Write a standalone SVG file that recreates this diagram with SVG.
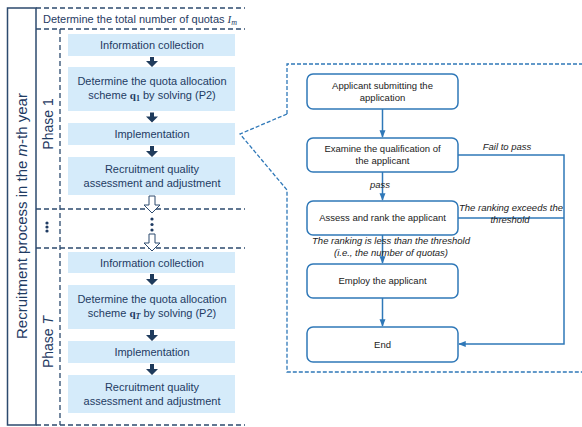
<svg xmlns="http://www.w3.org/2000/svg" width="582" height="427" viewBox="0 0 582 427">
<defs>
<style>
.lt{font-family:"Liberation Sans",Arial,sans-serif;font-size:11px;fill:#1f3b63;text-anchor:middle}
.big{font-size:15px}
.ph{font-size:14px}
.box{fill:#d5ebfa}
.dash{stroke:#2c4a6e;stroke-width:1.3;stroke-dasharray:5 3;fill:none}
.solid{stroke:#2c4a6e;stroke-width:1.5;fill:none}
.darr{fill:#1f3b5c}
.harr{fill:#fff;stroke:#2c4a6e;stroke-width:1}
.rn{fill:#fff;stroke:#2f78b8;stroke-width:1.5}
.rt{font-family:"Liberation Sans",Arial,sans-serif;font-size:9.5px;fill:#222;text-anchor:middle}
.it{font-family:"Liberation Sans",Arial,sans-serif;font-size:9.5px;fill:#222;font-style:italic;text-anchor:middle}
.con{stroke:#2f78b8;stroke-width:1.5;fill:none}
.bd{stroke:#2f78b8;stroke-width:1.3;stroke-dasharray:4 2;fill:none}
.mth{font-family:"Liberation Serif","Times New Roman",serif}
.sub{font-size:8px}
</style>
<marker id="ah" viewBox="0 0 10 10" refX="9" refY="5" markerWidth="5" markerHeight="5" orient="auto">
<path d="M0,1 L10,5 L0,9 z" fill="#2f78b8"/>
</marker>
</defs>

<!-- left frame -->
<g id="frame">
<rect x="7.5" y="8" width="28.5" height="417" class="solid"/>
<line x1="36" y1="8" x2="245" y2="8" class="dash"/>
<line x1="36" y1="29" x2="245" y2="29" class="dash"/>
<line x1="36" y1="209" x2="245" y2="209" class="dash"/>
<line x1="36" y1="248" x2="245" y2="248" class="dash"/>
<line x1="36" y1="425" x2="245" y2="425" class="dash" stroke="#9cb4cc"/>
<line x1="60" y1="29" x2="60" y2="425" class="dash"/>
<text class="lt" x="140" y="22.5">Determine the total number of quotas <tspan class="mth" font-style="italic">I</tspan><tspan class="mth sub" font-style="italic" dy="2">m</tspan></text>
<text class="lt big" transform="translate(27,216) rotate(-90)">Recruitment process in the <tspan font-style="italic">m</tspan>-th year</text>
<text class="lt ph" transform="translate(53,124) rotate(-90)">Phase 1</text>
<text class="lt ph" transform="translate(53,342) rotate(-90)">Phase <tspan font-style="italic">T</tspan></text>
<circle cx="47" cy="223" r="1.6" fill="#1f3b63"/>
<circle cx="47" cy="227" r="1.6" fill="#1f3b63"/>
<circle cx="47" cy="231" r="1.6" fill="#1f3b63"/>
</g>

<!-- Phase 1 -->
<g id="p1-info"><rect class="box" x="68" y="34" width="167" height="22"/><text class="lt" x="152" y="49">Information collection</text></g>
<g id="p1-det"><rect class="box" x="68" y="67" width="167" height="44"/><text class="lt" x="152" y="85">Determine the quota allocation</text><text class="lt" x="152" y="99">scheme <tspan class="mth" font-weight="bold">q</tspan><tspan class="mth sub" font-weight="bold" dy="2">1</tspan><tspan dy="-2"> by solving (P2)</tspan></text></g>
<g id="p1-impl"><rect class="box" x="68" y="123" width="167" height="22"/><text class="lt" x="152" y="138">Implementation</text></g>
<g id="p1-rqa"><rect class="box" x="68" y="157" width="167" height="38"/><text class="lt" x="152" y="173">Recruitment quality</text><text class="lt" x="152" y="187">assessment and adjustment</text></g>

<!-- Phase T -->
<g id="pT-info"><rect class="box" x="68" y="252" width="167" height="21"/><text class="lt" x="152" y="266.5">Information collection</text></g>
<g id="pT-det"><rect class="box" x="68" y="285" width="167" height="44"/><text class="lt" x="152" y="303">Determine the quota allocation</text><text class="lt" x="152" y="317">scheme <tspan class="mth" font-weight="bold">q</tspan><tspan class="mth sub" font-weight="bold" font-style="italic" dy="2">T</tspan><tspan dy="-2"> by solving (P2)</tspan></text></g>
<g id="pT-impl"><rect class="box" x="68" y="341" width="167" height="22"/><text class="lt" x="152" y="356">Implementation</text></g>
<g id="pT-rqa"><rect class="box" x="68" y="375" width="167" height="38"/><text class="lt" x="152" y="391">Recruitment quality</text><text class="lt" x="152" y="405">assessment and adjustment</text></g>

<!-- left connectors -->
<g id="left-connectors">
<path class="darr" d="M150,57 h4 v4 h4 l-6,6 l-6,-6 h4 z"/>
<path class="darr" d="M150,112.5 h4 v4 h4 l-6,6 l-6,-6 h4 z"/>
<path class="darr" d="M150,146 h4 v5 h4 l-6,6 l-6,-6 h4 z"/>
<path class="darr" d="M150,274 h4 v5 h4 l-6,6 l-6,-6 h4 z"/>
<path class="darr" d="M150,330 h4 v5 h4 l-6,6 l-6,-6 h4 z"/>
<path class="darr" d="M150,364 h4 v5 h4 l-6,6 l-6,-6 h4 z"/>
<path class="harr" d="M149,196 h6 v9 h5 l-8,8 l-8,-8 h5 z"/>
<path class="harr" d="M149,234 h6 v9 h5 l-8,8 l-8,-8 h5 z"/>
<circle cx="152" cy="219" r="1.6" fill="#1f3b63"/>
<circle cx="152" cy="224.5" r="1.6" fill="#1f3b63"/>
<circle cx="152" cy="230" r="1.6" fill="#1f3b63"/>
</g>

<!-- right panel border -->
<g id="detail-border">
<path class="bd" d="M287,114 L287,64 L582,64"/>
<path class="bd" d="M287,114 L240,134 L287,190 L287,372 L582,372"/>
</g>

<!-- right nodes -->
<g id="n-submit"><rect class="rn" x="307" y="74" width="151" height="35" rx="6"/><text class="rt" x="382.5" y="89">Applicant submitting the</text><text class="rt" x="382.5" y="101">application</text></g>
<g id="n-examine"><rect class="rn" x="307" y="138" width="151" height="34" rx="6"/><text class="rt" x="382.5" y="152">Examine the qualification of</text><text class="rt" x="382.5" y="164">the applicant</text></g>
<g id="n-assess"><rect class="rn" x="307" y="201" width="151" height="34" rx="6"/><text class="rt" x="382.5" y="221">Assess and rank the applicant</text></g>
<g id="n-employ"><rect class="rn" x="307" y="264" width="151" height="34" rx="6"/><text class="rt" x="382.5" y="284">Employ the applicant</text></g>
<g id="n-end"><rect class="rn" x="307" y="327" width="151" height="35" rx="6"/><text class="rt" x="382.5" y="348">End</text></g>

<!-- right connectors -->
<g id="right-connectors">
<line class="con" x1="382.5" y1="109" x2="382.5" y2="137" marker-end="url(#ah)"/>
<line class="con" x1="382.5" y1="172" x2="382.5" y2="200" marker-end="url(#ah)"/>
<line class="con" x1="382.5" y1="235" x2="382.5" y2="263" marker-end="url(#ah)"/>
<line class="con" x1="382.5" y1="298" x2="382.5" y2="326" marker-end="url(#ah)"/>
<path class="con" d="M458,155 H564 V344 H459" marker-end="url(#ah)"/>
<line class="con" x1="458" y1="218" x2="564" y2="218"/>
<text class="it" x="507" y="150">Fail to pass</text>
<text class="it" x="380" y="188">pass</text>
<text class="it" x="511" y="211">The ranking exceeds the</text>
<text class="it" x="510" y="223">threshold</text>
<text class="it" x="391" y="244">The ranking is less than the threshold</text>
<text class="it" x="391" y="256">(i.e., the number of quotas)</text>
</g>
</svg>
